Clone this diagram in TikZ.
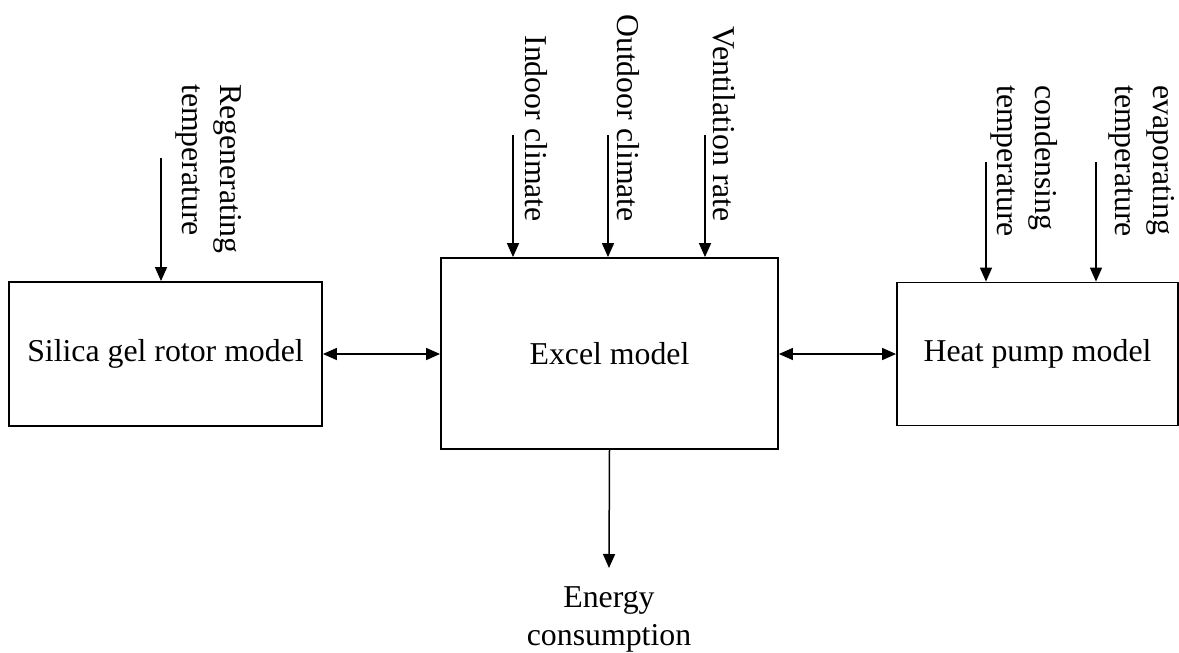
\documentclass[tikz,border=0pt]{standalone}
\usepackage{fontspec}
\setmainfont{Liberation Serif}
\usetikzlibrary{arrows.meta}
\begin{document}
\begin{tikzpicture}[x=1pt,y=-1pt,
  txt/.style={font=\fontsize{31.8}{38}\selectfont},
  modelbox/.style={draw, line width=1.8pt, inner sep=0pt, txt},
  link/.style={line width=1.5pt, -{Triangle[length=14pt,width=12pt]}},
  dlink/.style={line width=1.5pt, {Triangle[length=14pt,width=12pt]}-{Triangle[length=14pt,width=12pt]}},
  vlab/.style={txt, rotate=-90, inner sep=0pt},
]
\useasboundingbox (0,0) rectangle (1179,653);
\begin{scope}
\clip (0,0) rectangle (1179,653);
% boxes
\node[modelbox, minimum width=313pt, minimum height=144pt] (silica) at (165.5,354) {Silica gel rotor model};
\node[modelbox, minimum width=337pt, minimum height=191pt] (excel) at (609.5,353.5) {Excel model};
\node[modelbox, minimum width=281pt, minimum height=143pt] (heat) at (1037.5,354) {Heat pump model};

% bidirectional links
\draw[dlink] (silica.east) -- (silica.east -| excel.west);
\draw[dlink] (heat.west -| excel.east) -- (heat.west);

% inputs: silica
\coordinate (regtop) at (161,158);
\draw[link] (regtop) -- (regtop |- silica.north);
\node[vlab, align=left, anchor=north west] (reglab) at (242,84) {Regenerating\\temperature};

% inputs: excel
\coordinate (indtop) at (513,135);
\coordinate (outtop) at (608,135);
\coordinate (ventop) at (705,135);
\draw[link] (indtop) -- (indtop |- excel.north);
\draw[link] (outtop) -- (outtop |- excel.north);
\draw[link] (ventop) -- (ventop |- excel.north);
\node[vlab, anchor=base east] (indlab) at (525,222) {Indoor climate};
\node[vlab, anchor=base east] (outlab) at (617,222) {Outdoor climate};
\node[vlab, anchor=base east] (venlab) at (713,222) {Ventilation rate};

% inputs: heat pump
\coordinate (contop) at (986,162);
\coordinate (evatop) at (1096,162);
\draw[link] (contop) -- (contop |- heat.north);
\draw[link] (evatop) -- (evatop |- heat.north);
\node[vlab, align=left, anchor=north west] (conlab) at (1058,85) {condensing\\temperature};
\node[vlab, align=left, anchor=north west] (evalab) at (1175,85) {evaporating\\temperature};

% output
\coordinate (enend) at (609,568);
\draw[link] (excel.south) -- (enend);
\node[txt, align=center, anchor=north, inner sep=0pt] (enlab) at (609,586) {Energy\\consumption};
\end{scope}
\end{tikzpicture}
\end{document}
